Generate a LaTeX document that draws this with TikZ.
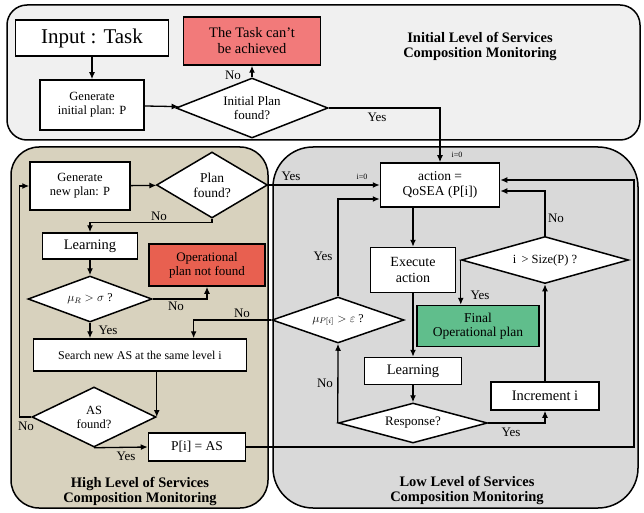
\documentclass[tikz,border=0pt]{standalone}
\usepackage{fontspec}
\usepackage{amsmath}
\setmainfont{Liberation Serif}
\usetikzlibrary{shapes.geometric, arrows.meta, positioning, calc}
\definecolor{initbg}{RGB}{240,240,240}
\definecolor{highbg}{RGB}{216,210,190}
\definecolor{lowbg}{RGB}{217,217,217}
\definecolor{failred}{RGB}{242,122,122}
\definecolor{notfoundred}{RGB}{232,96,80}
\definecolor{finalgreen}{RGB}{96,190,140}

\begin{document}
\begin{tikzpicture}[x=1pt, y=-1pt,
    panel/.style={draw, line width=1.5pt},
    box/.style={draw, fill=white, line width=1.5pt, align=center, inner sep=1pt, font=\fontsize{12.5}{14}\selectfont},
    decision/.style={draw, diamond, aspect=2, fill=white, line width=1.5pt, align=center, inner sep=0pt, font=\fontsize{12.5}{14}\selectfont},
    arrow/.style={-{Latex[length=7pt,width=6pt]}, line width=1.3pt},
    lbl/.style={font=\fontsize{13}{14}\selectfont, inner sep=0pt},
    title/.style={font=\bfseries\fontsize{14.5}{15}\selectfont, align=center}
]
    \useasboundingbox (0,0) rectangle (644,513);

    % Panels
    \draw[panel, fill=initbg, rounded corners=20pt] (7,5) rectangle (640,140);
    \draw[panel, fill=highbg, rounded corners=28pt] (11,147) rectangle (268,508);
    \draw[panel, fill=lowbg, rounded corners=40pt] (273,147) rectangle (638,508);

    \node[title] (inittitle) at (480,46) {Initial Level of Services\\Composition Monitoring};
    \node[title] (hightitle) at (140,491) {High Level of Services\\Composition Monitoring};
    \node[title] (lowtitle) at (467,490) {Low Level of Services\\Composition Monitoring};

    % Initial level
    \node[box, minimum width=153, minimum height=36, font=\fontsize{21}{23}\selectfont] (input) at (92,38) {Input : Task};
    \node[box, fill=failred, minimum width=137, minimum height=48, font=\fontsize{14.5}{16}\selectfont] (fail) at (252,41) {The Task can't\\be achieved};
    \node[box, minimum width=104, minimum height=50] (geninit) at (92,105) {Generate\\initial plan: P};
    \node[decision, minimum width=152, minimum height=60, font=\fontsize{13}{14}\selectfont] (initfound) at (252,108) {Initial Plan\\found?};

    % High level
    \node[box, minimum width=100, minimum height=48] (genplan) at (80,186) {Generate\\new plan: P};
    \node[decision, minimum width=111, minimum height=66, font=\fontsize{13.5}{15}\selectfont] (planfound) at (212,185) {Plan\\found?};
    \node[box, minimum width=95, minimum height=26, font=\fontsize{14.5}{16}\selectfont] (learnhigh) at (90,246) {Learning};
    \node[box, fill=notfoundred, minimum width=116, minimum height=42, font=\fontsize{13}{14}\selectfont] (notfound) at (207,265) {Operational\\plan not found};
    \node[decision, minimum width=124, minimum height=46, font=\fontsize{12}{14}\selectfont] (mur) at (90,299) {$\mu_{R} > \sigma$ ?};
    \node[box, minimum width=213, minimum height=32, font=\fontsize{12}{14}\selectfont] (search) at (140,355) {Search new AS at the same level i};
    \node[decision, minimum width=124, minimum height=60] (asfound) at (94,417) {AS\\found?};
    \node[box, minimum width=97, minimum height=28, font=\fontsize{13.5}{15}\selectfont] (pias) at (197,447) {P[i] = AS};

    % Low level
    \node[box, minimum width=119, minimum height=44, font=\fontsize{13.5}{15}\selectfont] (action) at (440,185) {action =\\QoSEA (P[i])};
    \node[box, minimum width=85, minimum height=45, font=\fontsize{14}{16}\selectfont] (execute) at (413,270) {Execute\\action};
    \node[box, fill=finalgreen, minimum width=122, minimum height=41, font=\fontsize{13.5}{14}\selectfont] (final) at (478,326) {Final\\Operational plan};
    \node[box, minimum width=97, minimum height=27, font=\fontsize{14.5}{16}\selectfont] (learnlow) at (413,371) {Learning};
    \node[box, minimum width=108, minimum height=28, font=\fontsize{14.5}{16}\selectfont] (increment) at (545,396) {Increment i};
    \node[decision, minimum width=149, minimum height=40, font=\fontsize{13}{14}\selectfont] (response) at (413,423) {Response?};
    \node[decision, minimum width=167, minimum height=47] (sizep) at (545,260) {i \,> Size(P) ?};
    \node[decision, minimum width=132, minimum height=46, font=\fontsize{12}{14}\selectfont] (mup) at (338,320) {$\mu_{P[i]} > \varepsilon$ ?};
    \coordinate (loop) at (634,180);

    % Arrows
    \draw[arrow] (input) -- (geninit);
    \draw[arrow] (geninit) -- (initfound);
    \draw[arrow] (initfound.north) -- (fail.south);
    \draw[arrow] (initfound.east) -| (action.north);
    \draw[arrow] (genplan) -- (planfound);
    \draw[arrow] (planfound.east) -- (action.west);
    \draw[arrow] (planfound.south) -- ++(0,4) -| (learnhigh.north);
    \draw[arrow] (learnhigh) -- (mur);
    \draw[arrow] (mur.east) -| (notfound.south);
    \draw[arrow] (mur.south) -- (mur.south |- search.north);
    \draw[arrow] (mup.west) -| ($(search.north)!0.5!(search.north east)$);
    \draw[arrow] (search.south -| asfound.east) -- (asfound.east);
    \draw[arrow] (asfound.west) -- ++(-12,0) |- (genplan.west);
    \draw[arrow] (asfound.south) -- (pias.west);
    \draw[arrow] (pias.east) -| (loop) -- ([yshift=5pt]action.east);
    \draw[arrow] (action.south -| execute.north) -- (execute.north);
    \draw[arrow] (execute) -- (learnlow);
    \draw[arrow] (learnlow) -- (response);
    \draw[arrow] (response.west) -- (mup.south);
    \draw[arrow] (mup.north) |- ([yshift=-14pt]action.west);
    \draw[arrow] (response.east) -| (increment.south);
    \draw[arrow] (increment) -- (sizep);
    \draw[arrow] (sizep.north) |- ([yshift=-6pt]action.east);
    \draw[arrow] (sizep.west) -- (sizep.west |- final.north);

    % Labels
    \node[lbl] (noinit) at (233,75) {No};
    \node[lbl] (yesinit) at (377,117) {Yes};
    \node[lbl, font=\fontsize{8}{9}\selectfont] (izerotop) at (457,155) {i=0};
    \node[lbl] (yesplan) at (291,176) {Yes};
    \node[lbl, font=\fontsize{8}{9}\selectfont] (izeroleft) at (362,177) {i=0};
    \node[lbl] (noplan) at (159,216) {No};
    \node[lbl] (nomur) at (176,306) {No};
    \node[lbl] (yesmur) at (108,330) {Yes};
    \node[lbl] (nomup) at (242,313) {No};
    \node[lbl] (noas) at (26,426) {No};
    \node[lbl] (yesas) at (126,456) {Yes};
    \node[lbl] (yesmup) at (323,256) {Yes};
    \node[lbl] (noresp) at (325,383) {No};
    \node[lbl] (yesresp) at (511,432) {Yes};
    \node[lbl] (nosize) at (556,218) {No};
    \node[lbl] (yessize) at (480,295) {Yes};
\end{tikzpicture}
\end{document}
